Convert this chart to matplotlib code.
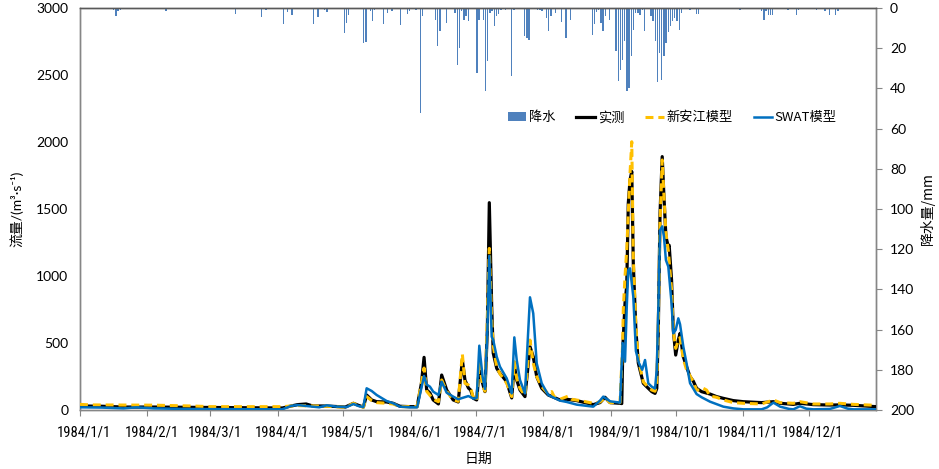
import matplotlib
matplotlib.use("Agg")
import matplotlib.pyplot as plt
from matplotlib.patches import Patch
from matplotlib.lines import Line2D
import warnings
warnings.filterwarnings('ignore')

plt.rcParams['font.family'] = ['Lato', 'Noto Sans CJK SC', 'DejaVu Sans']

# ---------------- data (day of year 1984) ----------
month_days = [0, 31, 60, 91, 121, 152, 182, 213, 244, 274, 305, 335]
month_labels = ["1984/1/1", "1984/2/1", "1984/3/1", "1984/4/1", "1984/5/1",
                "1984/6/1", "1984/7/1", "1984/8/1", "1984/9/1", "1984/10/1",
                "1984/11/1", "1984/12/1"]

obs_day = [0, 10, 20, 34, 50, 93, 100, 104, 107, 113, 119, 122, 125.7, 128, 130.3,
           131.8, 134.1, 136.4, 141, 144, 147.1, 151.7, 155, 157, 158.2, 159.4,
           160.9, 162.4, 164.8, 166.3, 168.6, 171.6, 173.9, 175.8, 177, 178.6,
           179.6, 180.9, 182.4, 183.6, 185.1, 186.2, 187.3, 188.2, 189.3, 190,
           191.6, 193.1, 196.2, 198.5, 199.7, 200.8, 202.3, 204.6, 206.9, 208.4,
           210, 212.3, 215.3, 220.7, 223.8, 228.4, 236, 239.1, 241.4, 243.7,
           248.3, 249.1, 249.6, 250.6, 251.4, 252.1, 252.9, 253.7, 254.4, 255.6,
           256.7, 259, 261.3, 262.9, 264.4, 265.2, 265.9, 266.7, 267.7, 268.5,
           269.4, 270.5, 270.9, 272, 272.8, 273.9, 275.1, 275.9, 277.4, 278.9,
           280.5, 282, 283.5, 285.8, 289.7, 292.7, 295.8, 300.4, 305, 313.4,
           318.8, 321.9, 328, 331, 337.2, 344.8, 349.4, 355.6, 366]
obs_val = [30, 28, 22, 22, 20, 15, 40, 45, 30, 30, 25, 22, 50, 35, 22,
           112, 75, 62, 60, 50, 28, 25, 25, 200, 393, 150,
           127, 75, 45, 261, 149, 75, 60, 373, 224, 164,
           149, 87, 75, 313, 200, 137, 600, 1547, 771, 425,
           311, 274, 211, 90, 336, 224, 149, 100, 473, 398,
           249, 162, 112, 75, 80, 70, 40, 55, 95, 55,
           50, 48, 470, 798, 930, 1542, 1716, 1780, 1095, 597,
           351, 199, 162, 137, 124, 160, 597, 1468, 1891, 1592,
           1294, 1219, 1229, 970, 597, 410, 522, 572, 398, 323,
           249, 215, 162, 137, 119, 100, 87, 70, 62, 55,
           62, 50, 42, 50, 40, 37, 38, 35, 25]

xaj_day = [0, 5, 20, 34, 51, 60, 93, 100, 107, 113, 122, 125.7, 130.3, 131.8,
           134.1, 136.4, 141, 144, 147.1, 155, 158.2, 159.4, 162.4, 164.8, 166.3,
           168.6, 171.6, 173.9, 175.8, 177, 178.6, 179.6, 180.9, 182.4, 183.6,
           185.1, 186.2, 187.3, 188.2, 189.3, 190, 191.6, 193.1, 196.2, 198.5,
           199.7, 200.8, 202.3, 204.6, 206.9, 208.4, 210, 212.3, 215.3, 216.9,
           218, 220.7, 224.5, 226, 230, 236, 239.1, 241.4, 243.7, 248.3, 249.5,
           249.8, 250.6, 251.4, 252.1, 252.9, 253.7, 254.4, 255.6, 256.7, 259,
           261.3, 262.9, 264.4, 265.2, 265.9, 266.7, 267.7, 268.5, 269.4, 270.5,
           272, 272.8, 273.9, 275.1, 275.9, 277.4, 278.9, 282, 283.5, 285.8,
           286.6, 288.1, 289.7, 292.7, 295.8, 300.4, 305, 313.4, 318.8, 321.9,
           328, 331, 337.2, 344.8, 349.4, 355.6, 366]
xaj_val = [42, 38, 37, 36, 30, 25, 25, 33, 30, 28, 20, 50, 20, 100,
           71, 55, 50, 45, 25, 25, 313, 140, 80, 62, 224,
           140, 75, 65, 418, 199, 187, 170, 87, 75, 360,
           180, 140, 700, 1206, 672, 480, 320, 270, 200, 100,
           361, 235, 160, 110, 522, 350, 249, 175, 120, 137,
           100, 80, 104, 80, 70, 50, 60, 90, 55, 55, 497,
           746, 995, 1200, 1470, 1766, 2002, 1144, 620, 380, 210,
           170, 149, 140, 200, 650, 1400, 1866, 1600, 1320, 1190,
           900, 590, 460, 520, 540, 380, 300, 211, 149, 149,
           162, 149, 104, 95, 75, 55, 50, 45, 75, 55,
           50, 62, 45, 45, 50, 42, 35]

swat_day = [0, 10, 20, 26, 34, 51, 93, 97, 100, 104, 110, 113.4, 118, 122.6,
            125.7, 128, 130.3, 131.8, 134.1, 136.4, 141, 144, 147.1, 151.7, 155,
            158.2, 159.4, 160.9, 162.4, 164.8, 166.3, 168.6, 171.6, 173.9, 175.8,
            178.6, 180.9, 182.4, 183.6, 185.1, 186.2, 187.3, 188.2, 189.3, 190,
            191.6, 193.1, 196.2, 198.5, 199.7, 200.8, 202.3, 204.6, 206.9, 208.4,
            210, 212.3, 215.3, 220.7, 223.8, 228.4, 236, 239.1, 240.6, 243.7,
            248.3, 249.5, 250.6, 251.4, 252.1, 252.9, 254.4, 255.6, 257, 258.5,
            259.8, 261.3, 262.9, 264.4, 265.2, 265.9, 266.7, 267.7, 268.5, 269.4,
            270.5, 272, 272.8, 273.9, 275.1, 275.9, 277.4, 278.9, 280.5, 282,
            283.5, 285.8, 289.7, 295.8, 300.4, 305, 313.4, 316, 318.8, 321.9,
            326, 328, 331, 334, 337.2, 344.8, 349.4, 353, 355.6, 366]
swat_val = [20, 18, 12, 20, 12, 7, 5, 30, 37, 30, 20, 35, 25, 22,
            45, 30, 22, 162, 142, 112, 67, 50, 25, 20, 20,
            254, 190, 174, 137, 112, 211, 129, 100, 80, 90,
            104, 85, 90, 480, 249, 157, 600, 1149, 547, 522,
            398, 323, 236, 124, 542, 373, 224, 124, 841, 721,
            348, 199, 112, 70, 60, 40, 25, 70, 100, 65,
            55, 500, 361, 771, 1045, 1057, 846, 440, 350, 300,
            373, 199, 174, 160, 300, 746, 1343, 1370, 1294, 1119,
            1070, 796, 572, 597, 684, 640, 473, 348, 200, 160,
            119, 95, 62, 25, 12, 5, 5, 20, 55, 25,
            8, 5, 28, 10, 5, 8, 30, 10, 5, 5]

rain_day = [15, 16, 17, 18, 39, 71, 83, 85, 93, 95, 97, 107, 109, 112, 113,
            121, 122, 123, 130, 131, 133, 134, 135, 139, 141, 143, 147, 150, 151,
            154, 156, 157, 163, 164, 165, 168, 172, 173, 174, 175, 176, 177, 178,
            182, 183, 185, 186, 187, 188, 189, 190, 191, 192, 193, 195, 198, 199,
            204, 205, 206, 210, 211, 212, 214, 215, 216, 218, 221, 223, 225,
            235, 236, 237, 238, 239, 240, 241, 243, 246, 247, 248, 249, 250, 251,
            252, 253, 254, 255, 256, 257, 258, 259, 262, 263, 264, 265, 266, 267,
            268, 269, 270, 271, 272, 273, 274, 275, 276, 280, 283, 284, 303, 313,
            314, 315, 316, 317, 318, 325, 326, 329, 330, 338, 342, 344, 347, 348]
rain_mm = [1.0, 4.2, 1.3, 0.8, 1.7, 2.8, 4.7, 1.2, 8.0, 2.2, 3.3, 8.0, 4.5, 0.8, 2.2,
           12.5, 7.5, 3.3, 17.4, 17.1, 1.7, 6.3, 0.8, 8.0, 2.5, 1.7, 8.3, 3.2, 1.7,
           0.8, 52.3, 4.2, 5.8, 19.0, 11.6, 7.5, 2.5, 28.2, 19.9, 1.7, 5.8, 4.2, 6.6,
           32.4, 5.8, 5.8, 41.5, 26.5, 2.5, 1.7, 9.1, 4.2, 2.8, 1.2, 0.8, 34.0, 1.2,
           14.1, 14.9, 15.8, 0.8, 1.2, 1.7, 5.0, 11.6, 4.2, 2.5, 7.1, 14.9, 5.8,
           13.3, 7.8, 2.2, 1.2, 7.5, 11.6, 4.2, 5.8, 21.6, 36.5, 30.7, 25.7, 16.6, 41.5,
           39.8, 24.0, 10.8, 2.5, 2.5, 3.3, 0.8, 11.6, 4.2, 6.6, 16.6, 37.0, 22.4, 35.7,
           24.1, 17.4, 12.0, 9.0, 6.5, 5.0, 6.5, 10.8, 2.5, 0.8, 2.8, 2.8, 0.8, 1.7,
           5.8, 1.7, 3.3, 3.3, 3.3, 0.8, 0.5, 3.3, 0.8, 0.8, 1.7, 3.3, 3.3, 1.7]

# ---------------- figure ----------------
fig = plt.figure(figsize=(9.39, 4.69), dpi=100)
ax = fig.add_axes([80/939, 1-410/469, 796/939, 402/469])
ax2 = ax.twinx()

spine_c = '#868686'
c_rain = '#4F81BD'
c_obs = '#000000'
c_xaj = '#FFC000'
c_swat = '#0070C0'

ax2.bar([d + 0.5 for d in rain_day], rain_mm, width=0.62, color=c_rain, zorder=1)
ax2.set_ylim(200, 0)

ax.set_zorder(ax2.get_zorder() + 1)
ax.patch.set_visible(False)
ax.plot(obs_day, obs_val, color=c_obs, lw=2.3, solid_joinstyle='round', zorder=3)
ax.plot(xaj_day, xaj_val, color=c_xaj, lw=2.2, dashes=(2.6, 1.6), zorder=4)
ax.plot(swat_day, swat_val, color=c_swat, lw=1.8, solid_joinstyle='round', zorder=5)

ax.set_xlim(0, 366)
ax.set_ylim(0, 3000)
ax.set_yticks(range(0, 3001, 500))
ax.set_xticks(month_days)
ax.set_xticklabels([])
narrow = ['Liberation Sans Narrow', 'Roboto Condensed', 'Roboto']
for d, lab in zip(month_days, month_labels):
    ax.text(d + 2.0, -0.055, lab, transform=ax.get_xaxis_transform(),
            ha='center', va='center', fontsize=10.5, color='#000000',
            family=narrow)

ax.tick_params(axis='x', direction='out', length=4, color=spine_c, pad=2)
ax.tick_params(axis='y', length=0, pad=8.5, labelsize=10)
ax2.set_yticks(range(0, 201, 20))
ax2.tick_params(axis='y', direction='out', length=4, color=spine_c, pad=6, labelsize=10)

for a in (ax, ax2):
    for s in ('left', 'right', 'bottom'):
        a.spines[s].set_color(spine_c)
        a.spines[s].set_linewidth(1.0)
    a.spines['top'].set_color('#595959')
    a.spines['top'].set_linewidth(1.0)

cjk = ['Noto Sans CJK SC', 'DejaVu Sans']
ax.set_ylabel('流量/(m³·s⁻¹)', family=['Lato', 'Noto Sans CJK SC', 'DejaVu Sans'],
              fontsize=10, labelpad=9)
ax2.set_ylabel('降水量/mm', family=cjk, fontsize=10, labelpad=4)
ax.set_xlabel('日期', family=cjk, fontsize=10, labelpad=24)

handles = [Patch(facecolor=c_rain, edgecolor='none'),
           Line2D([], [], color=c_obs, lw=2.3),
           Line2D([], [], color=c_xaj, lw=2.2, dashes=(2.6, 1.6)),
           Line2D([], [], color=c_swat, lw=1.8)]
labels = ['降水', '实测', '新安江模型', 'SWAT模型']
leg = ax.legend(handles, labels, loc='center', bbox_to_anchor=(0.744, 0.727),
                ncol=4, frameon=False, handlelength=1.4, handletextpad=0.2,
                columnspacing=1.6, prop={'family': cjk, 'size': 9.5})

fig.savefig('out.png', dpi=100)
